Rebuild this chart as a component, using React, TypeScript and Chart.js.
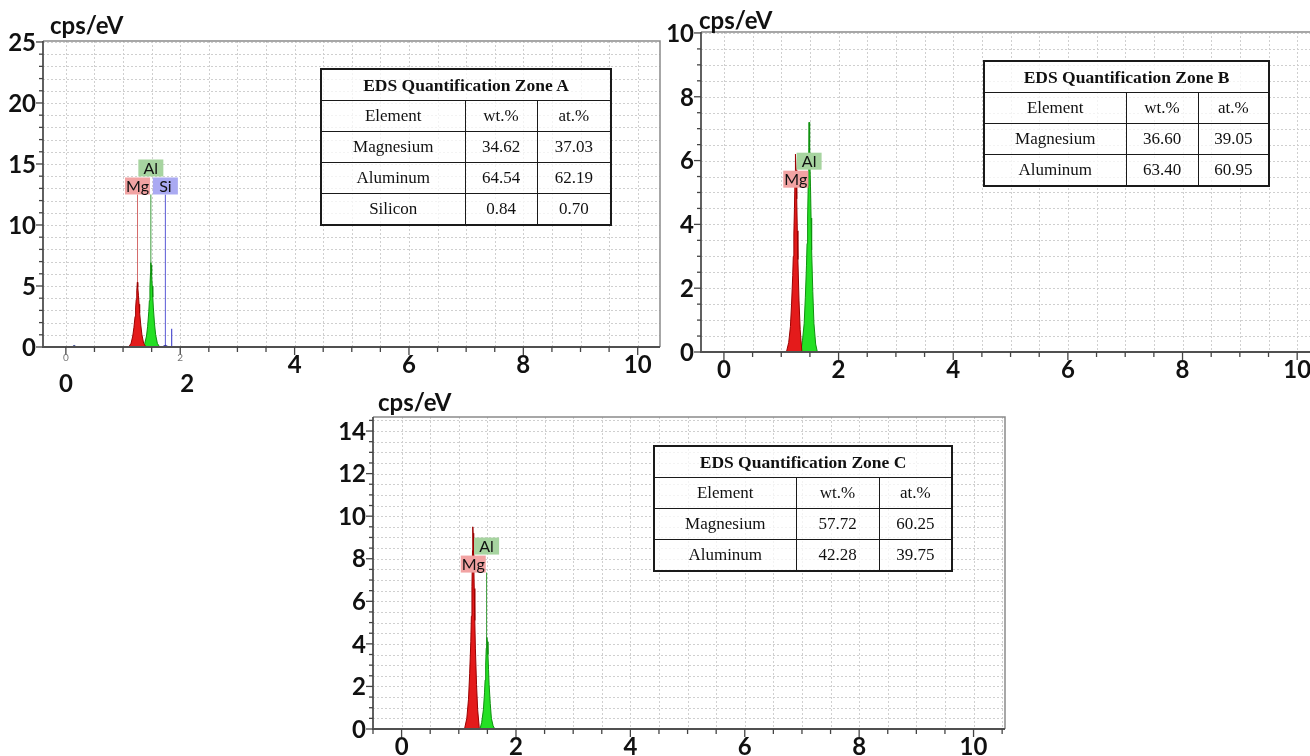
import React, { useEffect, useRef } from "react";
import { Chart, registerables } from "chart.js";

Chart.register(...registerables);

const SANS = "Lato, 'Open Sans', 'DejaVu Sans', sans-serif";
const SERIF = "'Liberation Serif', 'DejaVu Serif', serif";

// ---------------- tick labels ----------------
const xMainLabelsA = [4, 6, 8, 10];
const xLowLabelsA = [0, 2];
const xSmallLabelsA = [0, 2];
const xTickLabels = [0, 2, 4, 6, 8, 10];
const yTickLabelsA = [0, 5, 10, 15, 20, 25];
const yTickLabelsB = [0, 2, 4, 6, 8, 10];
const yTickLabelsC = [0, 2, 4, 6, 8, 10, 12, 14];

// ---------------- Zone A spectrum (keV, cps/eV) ----------------
const mgEnergyA = [1.1, 1.14, 1.17, 1.19, 1.21, 1.22, 1.23, 1.24, 1.25, 1.255, 1.26, 1.27, 1.28, 1.29, 1.31, 1.33, 1.36, 1.4];
const mgCountsA = [0, 0.3, 0.9, 1.6, 2.5, 3.2, 3.9, 4.6, 5.3, 5.2, 4.9, 4.2, 3.5, 2.8, 1.8, 1.0, 0.3, 0];
const alEnergyA = [1.34, 1.38, 1.41, 1.43, 1.45, 1.46, 1.47, 1.48, 1.485, 1.49, 1.5, 1.51, 1.52, 1.53, 1.55, 1.57, 1.6, 1.64];
const alCountsA = [0, 0.3, 0.9, 1.7, 2.9, 3.8, 4.9, 6.1, 6.9, 6.7, 5.9, 5.0, 4.1, 3.2, 1.9, 1.0, 0.3, 0];
const siEnergyA = [1.68, 1.72, 1.74, 1.76, 1.8];
const siCountsA = [0, 0.1, 0.14, 0.1, 0];
const spikeEnergyA = [1.85, 1.85];
const spikeCountsA = [0, 1.5];
const lowEnergyA = [0.1, 0.145, 0.19];
const lowCountsA = [0, 0.12, 0];
const elementsA = ["Mg", "Al", "Si"];
const lineEnergiesA = [1.253, 1.486, 1.74];
const lineTopA = 12.5;

// ---------------- Zone B spectrum ----------------
const mgEnergyB = [1.09, 1.13, 1.16, 1.18, 1.2, 1.21, 1.22, 1.23, 1.24, 1.245, 1.25, 1.26, 1.27, 1.28, 1.29, 1.31, 1.33, 1.36];
const mgCountsB = [0, 0.3, 0.8, 1.5, 2.4, 3.0, 3.7, 4.5, 5.4, 5.9, 6.2, 5.7, 4.8, 3.8, 2.9, 1.6, 0.7, 0];
const alEnergyB = [1.34, 1.37, 1.4, 1.42, 1.44, 1.45, 1.46, 1.47, 1.48, 1.485, 1.49, 1.5, 1.51, 1.52, 1.53, 1.55, 1.57, 1.6, 1.63];
const alCountsB = [0, 0.35, 0.9, 1.7, 2.7, 3.4, 4.2, 5.2, 6.4, 7.2, 7.0, 6.2, 5.2, 4.2, 3.2, 1.9, 0.9, 0.25, 0];
const elementsB = ["Mg", "Al"];
const lineEnergiesB = [1.253, 1.486];
const lineTopB = 5.15;

// ---------------- Zone C spectrum ----------------
const mgEnergyC = [1.1, 1.14, 1.17, 1.19, 1.21, 1.22, 1.23, 1.24, 1.245, 1.25, 1.26, 1.27, 1.28, 1.29, 1.31, 1.33, 1.36];
const mgCountsC = [0, 0.5, 1.4, 2.6, 4.1, 5.3, 6.7, 8.4, 9.5, 9.2, 8.0, 6.6, 5.1, 3.8, 2.1, 0.9, 0];
const alEnergyC = [1.37, 1.4, 1.43, 1.45, 1.46, 1.47, 1.48, 1.49, 1.5, 1.51, 1.52, 1.53, 1.55, 1.57, 1.6, 1.63];
const alCountsC = [0, 0.3, 0.9, 1.7, 2.3, 3.0, 3.8, 4.3, 4.1, 3.5, 2.8, 2.1, 1.2, 0.5, 0.15, 0];
const elementsC = ["Mg", "Al"];
const lineEnergiesC = [1.253, 1.486];
const lineTopC = 7.35;

// ---------------- quantification tables ----------------
const tableElementsA = ["Magnesium", "Aluminum", "Silicon"];
const wtPctA = ["34.62", "64.54", "0.84"];
const atPctA = ["37.03", "62.19", "0.70"];
const tableElementsB = ["Magnesium", "Aluminum"];
const wtPctB = ["36.60", "63.40"];
const atPctB = ["39.05", "60.95"];
const tableElementsC = ["Magnesium", "Aluminum"];
const wtPctC = ["57.72", "42.28"];
const atPctC = ["60.25", "39.75"];

// ---------------- styles ----------------
const ELEMENT_STYLE: Record<string, { fill: string; edge: string; line: string; box: string }> = {
  Mg: { fill: "#e41b1b", edge: "#9a0000", line: "#d46a6a", box: "#f2a3a3" },
  Al: { fill: "#24e024", edge: "#0f900f", line: "#3c9c3c", box: "#a7d4a0" },
  Si: { fill: "#4646c8", edge: "#2a2a9a", line: "#5a5ad6", box: "#aaaaf2" },
};

const pts = (xs: number[], ys: number[]) => xs.map((x, i) => ({ x, y: ys[i] }));

function peak(name: string, xs: number[], ys: number[]) {
  const s = ELEMENT_STYLE[name];
  return {
    label: name,
    data: pts(xs, ys),
    fill: "origin",
    backgroundColor: s.fill,
    borderColor: s.edge,
    borderWidth: 1,
    pointRadius: 0,
    tension: 0,
    order: 0,
  };
}

function markerLines(names: string[], energies: number[], top: number) {
  return names.map((n, i) => ({
    label: n + " line",
    data: [
      { x: energies[i], y: 0 },
      { x: energies[i], y: top },
    ],
    fill: false,
    borderColor: ELEMENT_STYLE[n].line,
    borderWidth: 1,
    pointRadius: 0,
    order: 2,
  }));
}

type PanelCfg = {
  yGridStep: number;
  yTickStep: number;
  yLabels: number[];
  xLabels: number[];
  xLowLabels?: number[];
  xSmallLabels?: number[];
  names: string[];
  energies: number[];
  raised: boolean[];
  lineTop: number;
};

function makePlugin(cfg: PanelCfg) {
  return {
    id: "edsFrame",
    beforeDatasetsDraw(chart: any) {
      const { ctx, chartArea: a, scales } = chart;
      const x = scales.x;
      const y = scales.y;
      ctx.save();
      ctx.fillStyle = "#ffffff";
      ctx.fillRect(a.left, a.top, a.right - a.left, a.bottom - a.top);
      ctx.strokeStyle = "#cfcfcf";
      ctx.lineWidth = 1;
      ctx.setLineDash([2, 2]);
      for (let k = Math.ceil(x.min / 0.5); k * 0.5 <= x.max; k++) {
        const px = Math.round(x.getPixelForValue(k * 0.5)) + 0.5;
        ctx.beginPath();
        ctx.moveTo(px, a.top);
        ctx.lineTo(px, a.bottom);
        ctx.stroke();
      }
      for (let k = 1; k * cfg.yGridStep <= y.max; k++) {
        const py = Math.round(y.getPixelForValue(k * cfg.yGridStep)) + 0.5;
        ctx.beginPath();
        ctx.moveTo(a.left, py);
        ctx.lineTo(a.right, py);
        ctx.stroke();
      }
      ctx.restore();
    },
    afterDatasetsDraw(chart: any) {
      const { ctx, chartArea: a, scales } = chart;
      const x = scales.x;
      const y = scales.y;
      ctx.save();
      ctx.setLineDash([]);
      ctx.strokeStyle = "#8a8a8a";
      ctx.lineWidth = 1.5;
      ctx.beginPath();
      ctx.moveTo(a.left, a.top);
      ctx.lineTo(a.right, a.top);
      ctx.lineTo(a.right, a.bottom);
      ctx.stroke();
      ctx.strokeStyle = "#505050";
      ctx.lineWidth = 1.8;
      ctx.beginPath();
      ctx.moveTo(a.left, a.top);
      ctx.lineTo(a.left, a.bottom);
      ctx.lineTo(a.right, a.bottom);
      ctx.stroke();
      ctx.lineWidth = 1.3;
      ctx.strokeStyle = "#444";
      for (let k = Math.ceil(x.min / 0.5); k * 0.5 <= x.max; k++) {
        const v = k * 0.5;
        const px = x.getPixelForValue(v);
        const major = Math.abs(v / 2 - Math.round(v / 2)) < 1e-6;
        ctx.beginPath();
        ctx.moveTo(px, a.bottom);
        ctx.lineTo(px, a.bottom + (major ? 8 : 5));
        ctx.stroke();
      }
      for (let k = 0; k * cfg.yTickStep <= y.max + 1e-6; k++) {
        const v = k * cfg.yTickStep;
        const py = y.getPixelForValue(v);
        const major = cfg.yLabels.some((l) => Math.abs(l - v) < 1e-6);
        ctx.beginPath();
        ctx.moveTo(a.left - (major ? 7 : 4), py);
        ctx.lineTo(a.left, py);
        ctx.stroke();
      }
      ctx.fillStyle = "#111";
      ctx.font = `bold 24px ${SANS}`;
      ctx.textAlign = "right";
      ctx.textBaseline = "middle";
      cfg.yLabels.forEach((v) => ctx.fillText(String(v), a.left - 7, y.getPixelForValue(v) + 1));
      ctx.textAlign = "center";
      cfg.xLabels.forEach((v) => ctx.fillText(String(v), x.getPixelForValue(v), a.bottom + 18));
      (cfg.xLowLabels || []).forEach((v, i) =>
        ctx.fillText(String(v), x.getPixelForValue(v) + (i === 0 ? 0 : 7), a.bottom + 37)
      );
      if (cfg.xSmallLabels) {
        ctx.font = `10px ${SANS}`;
        ctx.fillStyle = "#777";
        cfg.xSmallLabels.forEach((v) => ctx.fillText(String(v), x.getPixelForValue(v), a.bottom + 11));
      }
      const bw = 25;
      const bh = 17;
      const topPx = y.getPixelForValue(cfg.lineTop);
      cfg.names.forEach((n, i) => {
        const px = x.getPixelForValue(cfg.energies[i]);
        const bottom = cfg.raised[i] ? topPx - bh - 1 : topPx;
        ctx.fillStyle = ELEMENT_STYLE[n].box;
        ctx.fillRect(px - bw / 2, bottom - bh, bw, bh);
        ctx.fillStyle = "#111";
        ctx.font = `16px ${SANS}`;
        ctx.textAlign = "center";
        ctx.textBaseline = "middle";
        ctx.fillText(n, px, bottom - bh / 2 + 1);
      });
      ctx.restore();
    },
  };
}

type PanelProps = {
  left: number;
  top: number;
  width: number;
  height: number;
  padding: { left: number; top: number; right: number; bottom: number };
  xMin: number;
  xMax: number;
  yMax: number;
  datasets: any[];
  cfg: PanelCfg;
};

function EdsPanel(p: PanelProps) {
  const ref = useRef<HTMLCanvasElement>(null);
  useEffect(() => {
    const chart = new Chart(ref.current as HTMLCanvasElement, {
      type: "line",
      data: { datasets: p.datasets },
      options: {
        animation: false,
        responsive: false,
        maintainAspectRatio: false,
        events: [],
        layout: { padding: p.padding },
        plugins: { legend: { display: false }, tooltip: { enabled: false } },
        scales: {
          x: { type: "linear", min: p.xMin, max: p.xMax, display: false },
          y: { type: "linear", min: 0, max: p.yMax, display: false },
        },
      } as any,
      plugins: [makePlugin(p.cfg) as any],
    });
    return () => chart.destroy();
  }, []);
  return (
    <canvas
      ref={ref}
      width={p.width}
      height={p.height}
      style={{ position: "absolute", left: p.left, top: p.top, width: p.width, height: p.height }}
    />
  );
}

type TableProps = {
  left: number;
  top: number;
  cols: number[];
  rowH: number;
  title: string;
  elements: string[];
  wt: string[];
  at: string[];
};

function QuantTable(t: TableProps) {
  const cell: React.CSSProperties = {
    border: "1.5px solid #1a1a1a",
    height: t.rowH,
    padding: 0,
    textAlign: "center",
    verticalAlign: "middle",
    fontSize: 17,
  };
  return (
    <table
      style={{
        position: "absolute",
        left: t.left,
        top: t.top,
        width: t.cols.reduce((s, c) => s + c, 0),
        borderCollapse: "collapse",
        tableLayout: "fixed",
        border: "2px solid #1a1a1a",
        fontFamily: SERIF,
        color: "#111",
        background: "rgba(255,255,255,0.75)",
      }}
    >
      <colgroup>
        {t.cols.map((c, i) => (
          <col key={i} style={{ width: c }} />
        ))}
      </colgroup>
      <tbody>
        <tr>
          <td colSpan={3} style={{ ...cell, fontWeight: "bold", fontSize: 17.5 }}>
            {t.title}
          </td>
        </tr>
        <tr>
          <td style={cell}>Element</td>
          <td style={cell}>wt.%</td>
          <td style={cell}>at.%</td>
        </tr>
        {t.elements.map((e, i) => (
          <tr key={e}>
            <td style={cell}>{e}</td>
            <td style={cell}>{t.wt[i]}</td>
            <td style={cell}>{t.at[i]}</td>
          </tr>
        ))}
      </tbody>
    </table>
  );
}

const titleStyle = (left: number, top: number): React.CSSProperties => ({
  position: "absolute",
  left,
  top,
  fontFamily: SANS,
  fontWeight: "bold",
  fontSize: 24,
  lineHeight: "26px",
  color: "#111",
  whiteSpace: "nowrap",
});

export default function App() {
  const datasetsA = [
    peak("Mg", mgEnergyA, mgCountsA),
    peak("Al", alEnergyA, alCountsA),
    peak("Si", siEnergyA, siCountsA),
    {
      label: "spike",
      data: pts(spikeEnergyA, spikeCountsA),
      fill: false,
      borderColor: "#5050d0",
      borderWidth: 1.2,
      pointRadius: 0,
      order: 1,
    },
    {
      label: "low",
      data: pts(lowEnergyA, lowCountsA),
      fill: "origin",
      backgroundColor: "#203080",
      borderColor: "#203080",
      borderWidth: 1,
      pointRadius: 0,
      order: 1,
    },
    ...markerLines(elementsA, lineEnergiesA, lineTopA),
  ];
  const datasetsB = [
    peak("Mg", mgEnergyB, mgCountsB),
    peak("Al", alEnergyB, alCountsB),
    ...markerLines(elementsB, lineEnergiesB, lineTopB),
  ];
  const datasetsC = [
    peak("Mg", mgEnergyC, mgCountsC),
    peak("Al", alEnergyC, alCountsC),
    ...markerLines(elementsC, lineEnergiesC, lineTopC),
  ];

  return (
    <div
      style={{
        position: "absolute",
        left: 0,
        top: 0,
        width: 1310,
        height: 756,
        overflow: "hidden",
        background: "#ffffff",
      }}
    >
      <EdsPanel
        left={0}
        top={0}
        width={668}
        height={400}
        padding={{ left: 43, top: 41, right: 8, bottom: 53 }}
        xMin={-0.4}
        xMax={10.39}
        yMax={25.08}
        datasets={datasetsA}
        cfg={{
          yGridStep: 1,
          yTickStep: 1,
          yLabels: yTickLabelsA,
          xLabels: xMainLabelsA,
          xLowLabels: xLowLabelsA,
          xSmallLabels: xSmallLabelsA,
          names: elementsA,
          energies: lineEnergiesA,
          raised: [false, true, false],
          lineTop: lineTopA,
        }}
      />
      <EdsPanel
        left={660}
        top={0}
        width={680}
        height={400}
        padding={{ left: 41, top: 32, right: 9, bottom: 48 }}
        xMin={-0.4}
        xMax={10.59}
        yMax={10.03}
        datasets={datasetsB}
        cfg={{
          yGridStep: 0.5,
          yTickStep: 0.5,
          yLabels: yTickLabelsB,
          xLabels: xTickLabels,
          names: elementsB,
          energies: lineEnergiesB,
          raised: [false, true],
          lineTop: lineTopB,
        }}
      />
      <EdsPanel
        left={320}
        top={390}
        width={700}
        height={366}
        padding={{ left: 53, top: 27, right: 15, bottom: 27 }}
        xMin={-0.5}
        xMax={10.55}
        yMax={14.66}
        datasets={datasetsC}
        cfg={{
          yGridStep: 0.5,
          yTickStep: 0.5,
          yLabels: yTickLabelsC,
          xLabels: xTickLabels,
          names: elementsC,
          energies: lineEnergiesC,
          raised: [false, true],
          lineTop: lineTopC,
        }}
      />
      <div style={titleStyle(50, 12)}>cps/eV</div>
      <div style={titleStyle(699, 7)}>cps/eV</div>
      <div style={titleStyle(378, 389)}>cps/eV</div>
      <QuantTable
        left={320}
        top={68}
        cols={[144, 72, 74]}
        rowH={30}
        title="EDS Quantification Zone A"
        elements={tableElementsA}
        wt={wtPctA}
        at={atPctA}
      />
      <QuantTable
        left={983}
        top={60}
        cols={[142, 72, 71]}
        rowH={30}
        title="EDS Quantification Zone B"
        elements={tableElementsB}
        wt={wtPctB}
        at={atPctB}
      />
      <QuantTable
        left={653}
        top={445}
        cols={[142, 83, 73]}
        rowH={30}
        title="EDS Quantification Zone C"
        elements={tableElementsC}
        wt={wtPctC}
        at={atPctC}
      />
    </div>
  );
}
